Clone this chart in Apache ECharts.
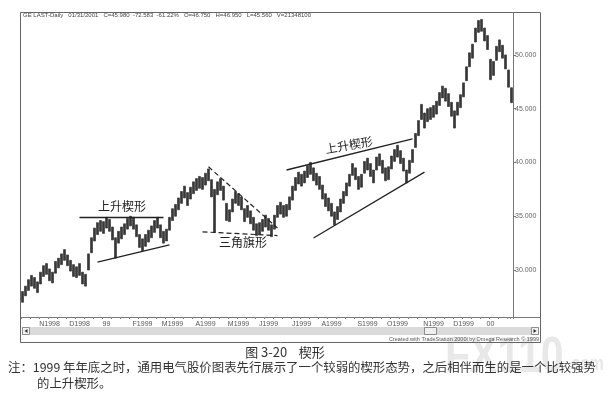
<!DOCTYPE html>
<html><head><meta charset="utf-8">
<script src="https://cdn.jsdelivr.net/npm/echarts@6/dist/echarts.min.js"></script>
<style>html,body{margin:0;padding:0;background:#fff;}#c{width:613px;height:411px;}</style>
</head><body><div id="c"></div>
<script>
// daily-bar lows / highs (each bar ~2 trading days), Oct 1998 - Jan 2000
const lows = [27.0,27.6,28.1,28.5,28.3,27.9,28.7,29.4,29.6,29.0,
28.8,29.7,30.2,30.5,30.9,30.4,29.9,29.4,29.3,29.5,
28.7,28.5,30.0,31.6,32.7,33.3,33.6,33.4,33.9,33.6,
32.8,31.1,32.5,32.9,33.3,33.8,34.1,33.8,33.1,32.1,
31.8,32.2,32.6,33.0,33.5,33.9,33.0,32.5,32.7,33.7,
34.6,35.0,35.6,36.2,36.7,36.0,36.6,37.1,37.4,37.6,
37.5,37.9,38.3,36.8,33.5,37.0,37.4,36.5,34.6,34.5,
35.4,36.2,36.0,35.6,34.5,34.9,34.3,33.7,33.2,33.3,
33.6,34.0,33.7,33.1,33.8,34.9,35.2,34.9,35.0,35.6,
36.5,37.4,38.0,37.8,38.1,38.6,38.9,38.3,37.9,37.5,
36.6,35.9,35.5,35.0,34.2,34.7,35.4,36.2,36.9,37.8,
38.8,38.4,37.5,37.7,39.0,39.3,38.7,38.1,39.3,39.7,
39.0,38.3,38.4,39.4,40.1,40.5,39.9,39.2,38.1,39.0,
40.0,41.4,42.5,44.0,43.2,43.8,44.0,44.2,44.5,45.3,
46.0,45.7,45.2,44.3,43.2,44.4,45.1,46.1,47.6,48.9,
49.7,51.2,52.1,52.2,51.3,50.5,47.7,48.1,49.5,50.3,
49.7,48.7,47.0,45.56];
const highs = [28.0,28.5,29.1,29.5,29.3,28.9,29.8,30.4,30.6,30.1,
29.8,30.8,31.1,31.5,31.9,31.4,30.9,30.5,30.3,30.6,
29.8,29.6,31.5,33.0,33.9,34.4,34.6,34.5,34.9,34.7,
34.0,33.0,33.6,34.0,34.3,34.8,35.0,34.9,34.2,33.3,
32.9,33.3,33.7,34.1,34.6,34.9,34.2,33.6,33.8,34.9,
35.7,36.1,36.7,37.3,37.8,37.2,37.7,38.2,38.5,38.7,
38.6,39.0,39.4,38.4,37.5,38.2,38.5,37.8,36.2,35.6,
36.6,37.3,37.1,36.8,35.7,36.0,35.5,34.9,34.3,34.4,
34.7,35.1,34.8,34.2,35.1,36.0,36.3,36.0,36.1,36.8,
37.8,38.6,39.1,38.9,39.2,39.7,40.0,39.5,39.0,38.7,
37.9,37.1,36.7,36.2,35.4,35.9,36.6,37.3,38.1,38.9,
39.9,39.5,38.7,38.9,40.1,40.4,39.9,39.3,40.5,40.8,
40.2,39.5,39.6,40.6,41.2,41.6,41.1,40.4,39.3,40.2,
41.2,42.7,43.9,45.4,44.6,45.0,45.1,45.3,45.7,46.5,
47.1,46.9,46.4,45.6,44.8,45.6,46.3,47.4,48.9,50.2,
51.0,52.5,53.2,53.3,52.5,51.8,49.6,49.4,50.8,51.4,
50.9,50.0,48.6,46.95];
const monthIdx  = [9,19,28,40,50,61,72,82,93,103,115,125,137,147,156];
const monthText = ['N1998','D1998','99','F1999','M1999','A1999','M1999','J1999','J1999','A1999','S1999','O1999','N1999','D1999','00'];
const yTicks = [30,35,40,45,50];
// pattern lines: [startIndex, startPrice, endIndex, endPrice]
const wedge1Top = [19,34.93,47,34.93];
const wedge1Bottom = [25,30.74,49,32.33];
const flagTop = [62,39.6,85,33.9];
const flagBottom = [60,33.55,85,33.2];
const wedge2Top = [88,39.3,130,42.2];
const wedge2Bottom = [97,32.98,134,39.1];

const categories = lows.map((_, i) => { const k = monthIdx.indexOf(i); return k >= 0 ? monthText[k] : ''; });
const ohlc = lows.map((l, i) => [l, highs[i], l, highs[i]]);
const seg = (a, dashed) => [{coord:[a[0],a[1]], lineStyle:{type: dashed ? [5,3] : 'solid', width: dashed ? 1.2 : 1.3, color:'#222'}}, {coord:[a[2],a[3]]}];

const chart = echarts.init(document.getElementById('c'));
const sans = 'Liberation Sans, Arial, sans-serif';
chart.setOption({
  animation:false,
  backgroundColor:'#fff',
  grid:{left:21, right:100, top:13, bottom:94},
  xAxis:{type:'category', data:categories, boundaryGap:true,
    axisLine:{lineStyle:{color:'#777', width:1}},
    axisTick:{show:true, interval:2, length:2, lineStyle:{color:'#888'}},
    axisLabel:{interval:0, fontSize:7, color:'#555', margin:4, fontFamily:sans},
    splitLine:{show:false}},
  yAxis:{type:'value', position:'right', min:25.63, max:53.9, scale:true,
    splitLine:{show:false},
    axisLine:{show:true, lineStyle:{color:'#777', width:1}},
    axisTick:{show:true, customValues:yTicks, length:3, lineStyle:{color:'#777'}},
    axisLabel:{customValues:yTicks, formatter:v=>v.toFixed(3), fontSize:7, color:'#666', margin:2, fontFamily:sans}},
  series:[{
    type:'candlestick', data:ohlc, barWidth:2.6,
    itemStyle:{color:'#383838', color0:'#383838', borderColor:'#383838', borderColor0:'#383838', borderWidth:0.7},
    markLine:{symbol:['none','none'], silent:true, label:{show:false},
      data:[seg(wedge1Top,false), seg(wedge1Bottom,false), seg(flagTop,true), seg(flagBottom,true), seg(wedge2Top,false), seg(wedge2Bottom,false)]}
  }],
  graphic:[
    {type:'text', x:445, y:333, scaleX:0.82, z:-1, style:{text:'FX110', font:'bold 50px Liberation Sans', fill:'#e8e8e8', verticalAlign:'top'}},
    {type:'text', x:567, y:354, scaleX:0.75, z:-1, style:{text:'.com', font:'bold 21px Liberation Sans', fill:'#e8e8e8', verticalAlign:'top'}},
    {type:'rect', shape:{x:20.5, y:12.5, width:520, height:330}, style:{fill:'none', stroke:'#666', lineWidth:1}},
    {type:'line', shape:{x1:513, y1:317.5, x2:540, y2:317.5}, style:{stroke:'#777', lineWidth:1}},
    {type:'rect', shape:{x:22, y:327, width:517, height:8}, style:{fill:'#dadada'}},
    {type:'rect', shape:{x:22.5, y:327.5, width:7, height:7}, style:{fill:'#f2f2f2', stroke:'#777', lineWidth:0.8}},
    {type:'rect', shape:{x:531.5, y:327.5, width:7, height:7}, style:{fill:'#f2f2f2', stroke:'#777', lineWidth:0.8}},
    {type:'polygon', shape:{points:[[24.5,331],[27.5,329],[27.5,333]]}, style:{fill:'#333'}},
    {type:'polygon', shape:{points:[[536.5,331],[533.5,329],[533.5,333]]}, style:{fill:'#333'}},
    {type:'rect', shape:{x:424.5, y:327.5, width:12, height:7}, style:{fill:'#efefef', stroke:'#777', lineWidth:0.8}},
    {type:'text', left:23, top:12, style:{text:'GE LAST-Daily   01/31/2001   C=45.980  -72.583  -61.22%   O=46.750   H=46.950   L=45.560   V=21348100', font:'6px Liberation Sans', fill:'#444'}},
    {type:'text', right:74, top:336, style:{text:'Created with TradeStation 2000i by Omega Research \u00a9 1999', font:'5.5px Liberation Sans', fill:'#555'}},
    {type:'text', left:98, top:200, style:{text:'上升楔形', font:'12px Noto Sans CJK SC', fill:'#222'}},
    {type:'text', left:219, top:236, style:{text:'三角旗形', font:'12px Noto Sans CJK SC', fill:'#222'}},
    {type:'text', x:349, y:145, rotation:0.17, style:{text:'上升楔形', font:'12px Noto Sans CJK SC', fill:'#222', align:'center', verticalAlign:'middle'}},
    {type:'text', x:285, y:352, style:{text:'图 3-20    楔形', font:'13px Noto Sans CJK SC', fill:'#333', align:'center', verticalAlign:'middle'}},
    {type:'text', left:8, top:361, style:{text:'注：1999 年年底之时，通用电气股价图表先行展示了一个较弱的楔形态势，之后相伴而生的是一个比较强势', font:'12.4px Noto Sans CJK SC', fill:'#333'}},
    {type:'text', left:37, top:377, style:{text:'的上升楔形。', font:'12.4px Noto Sans CJK SC', fill:'#333'}}
  ]
});
</script></body></html>
